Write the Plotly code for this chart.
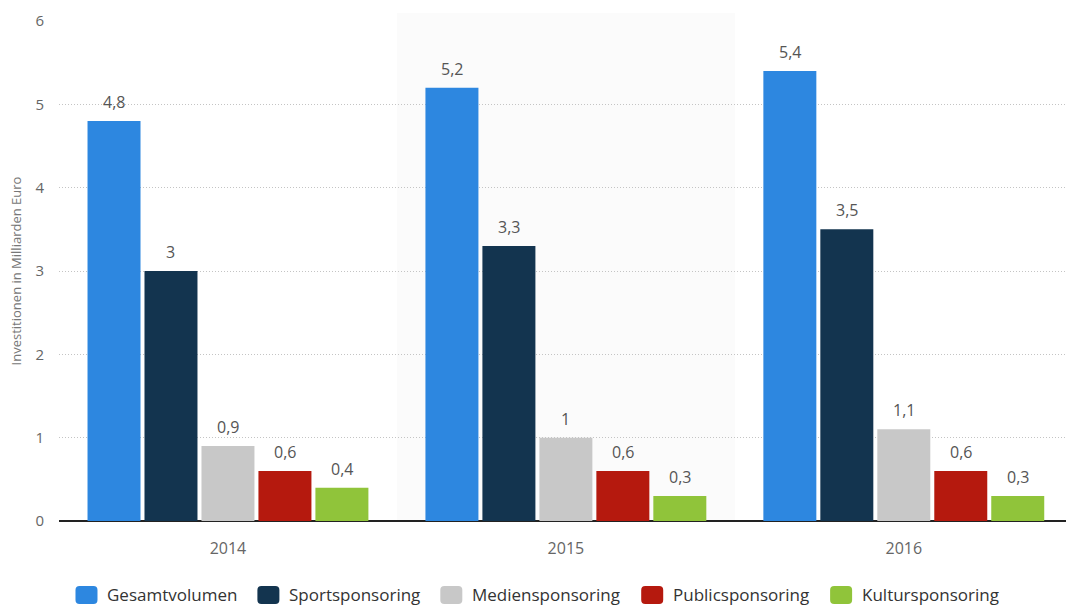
import plotly.graph_objects as go

years = ["2014", "2015", "2016"]
series_names = ["Gesamtvolumen", "Sportsponsoring", "Mediensponsoring", "Publicsponsoring", "Kultursponsoring"]
gesamtvolumen = [4.8, 5.2, 5.4]
sportsponsoring = [3.0, 3.3, 3.5]
mediensponsoring = [0.9, 1.0, 1.1]
publicsponsoring = [0.6, 0.6, 0.6]
kultursponsoring = [0.4, 0.3, 0.3]
y_ticks = [0, 1, 2, 3, 4, 5, 6]

values = [gesamtvolumen, sportsponsoring, mediensponsoring, publicsponsoring, kultursponsoring]
colors = ["#2d87e0", "#13344f", "#c8c8c8", "#b5190e", "#90c43a"]

FONT = "Open Sans"
W, H = 1066, 606
ML, MR, MT, MB = 58.5, 0, 21, 85
PW = W - ML - MR
PH = H - MT - MB

BARGAP = 0.157
GROUPGAP = 0.07

def fmt(v):
    return ("%g" % v).replace(".", ",")

xs = list(range(len(years)))
fig = go.Figure()
for name, vals, col in zip(series_names, values, colors):
    fig.add_trace(go.Bar(
        x=xs, y=vals, name=name, marker=dict(color=col, line=dict(width=0)),
        showlegend=False, hoverinfo="skip",
    ))

# value labels above bars (positions from data via axis coordinates)
n = len(series_names)
slot = (1 - BARGAP) / n
annotations = []
for j, vals in enumerate(values):
    for i, v in enumerate(vals):
        annotations.append(dict(
            x=i + (j - (n - 1) / 2) * slot, y=v, xref="x", yref="y",
            text=fmt(v), showarrow=False, yshift=19,
            font=dict(family=FONT, size=16, color="#555555"),
        ))

# custom legend
def px_to_paper_x(px):
    return (px - ML) / PW

def py_to_paper_y(py):
    return (H - MB - py) / PH

legend_sym_x = [75, 257, 440, 641, 830]
legend_y = 595
shapes = []
for sx, name, col in zip(legend_sym_x, series_names, colors):
    r = 4
    w, h = 22, 18
    path = (f"M{-w/2+r},{-h/2} L{w/2-r},{-h/2} Q{w/2},{-h/2} {w/2},{-h/2+r} "
            f"L{w/2},{h/2-r} Q{w/2},{h/2} {w/2-r},{h/2} L{-w/2+r},{h/2} "
            f"Q{-w/2},{h/2} {-w/2},{h/2-r} L{-w/2},{-h/2+r} Q{-w/2},{-h/2} {-w/2+r},{-h/2} Z")
    shapes.append(dict(
        type="path", xref="paper", yref="paper", xsizemode="pixel", ysizemode="pixel",
        xanchor=px_to_paper_x(sx + w / 2), yanchor=py_to_paper_y(legend_y),
        path=path, fillcolor=col, line=dict(width=0),
    ))
    annotations.append(dict(
        x=px_to_paper_x(sx + w + 8), y=py_to_paper_y(legend_y - 1), xref="paper", yref="paper",
        xanchor="left", yanchor="middle", text=name, showarrow=False,
        font=dict(family=FONT, size=17, color="#333333"),
    ))

# alternating band for middle category
shapes.append(dict(
    type="rect", xref="x", yref="paper", x0=0.5, x1=1.5, y0=0, y1=py_to_paper_y(13),
    fillcolor="#fbfbfb", line=dict(width=0), layer="below",
))

fig.update_layout(
    width=W, height=H,
    margin=dict(l=ML, r=MR, t=MT, b=MB, pad=0),
    paper_bgcolor="white", plot_bgcolor="rgba(0,0,0,0)",
    barmode="group", bargap=BARGAP, bargroupgap=GROUPGAP,
    font=dict(family=FONT, color="#666666"),
    annotations=annotations, shapes=shapes,
    showlegend=False,
)
fig.update_xaxes(
    range=[-0.5, 2.48], tickmode="array", tickvals=xs, ticktext=years,
    showgrid=False, zeroline=False, showline=False,
    tickfont=dict(family=FONT, size=16, color="#666666"),
    ticks="outside", ticklen=13, tickcolor="rgba(0,0,0,0)",
)
fig.update_yaxes(
    range=[0, 6], tickmode="array", tickvals=y_ticks, ticktext=[str(t) for t in y_ticks],
    showgrid=True, gridcolor="#c4c4c4", griddash="1px,2px", gridwidth=1,
    zeroline=True, zerolinecolor="#222222", zerolinewidth=1.5,
    showline=False,
    tickfont=dict(family=FONT, size=15, color="#666666"),
    ticks="outside", ticklen=11, tickcolor="rgba(0,0,0,0)",
    title=dict(text="Investitionen in Milliarden Euro", standoff=10,
               font=dict(family=FONT, size=13, color="#777777")),
)

fig.write_html("out.html")
